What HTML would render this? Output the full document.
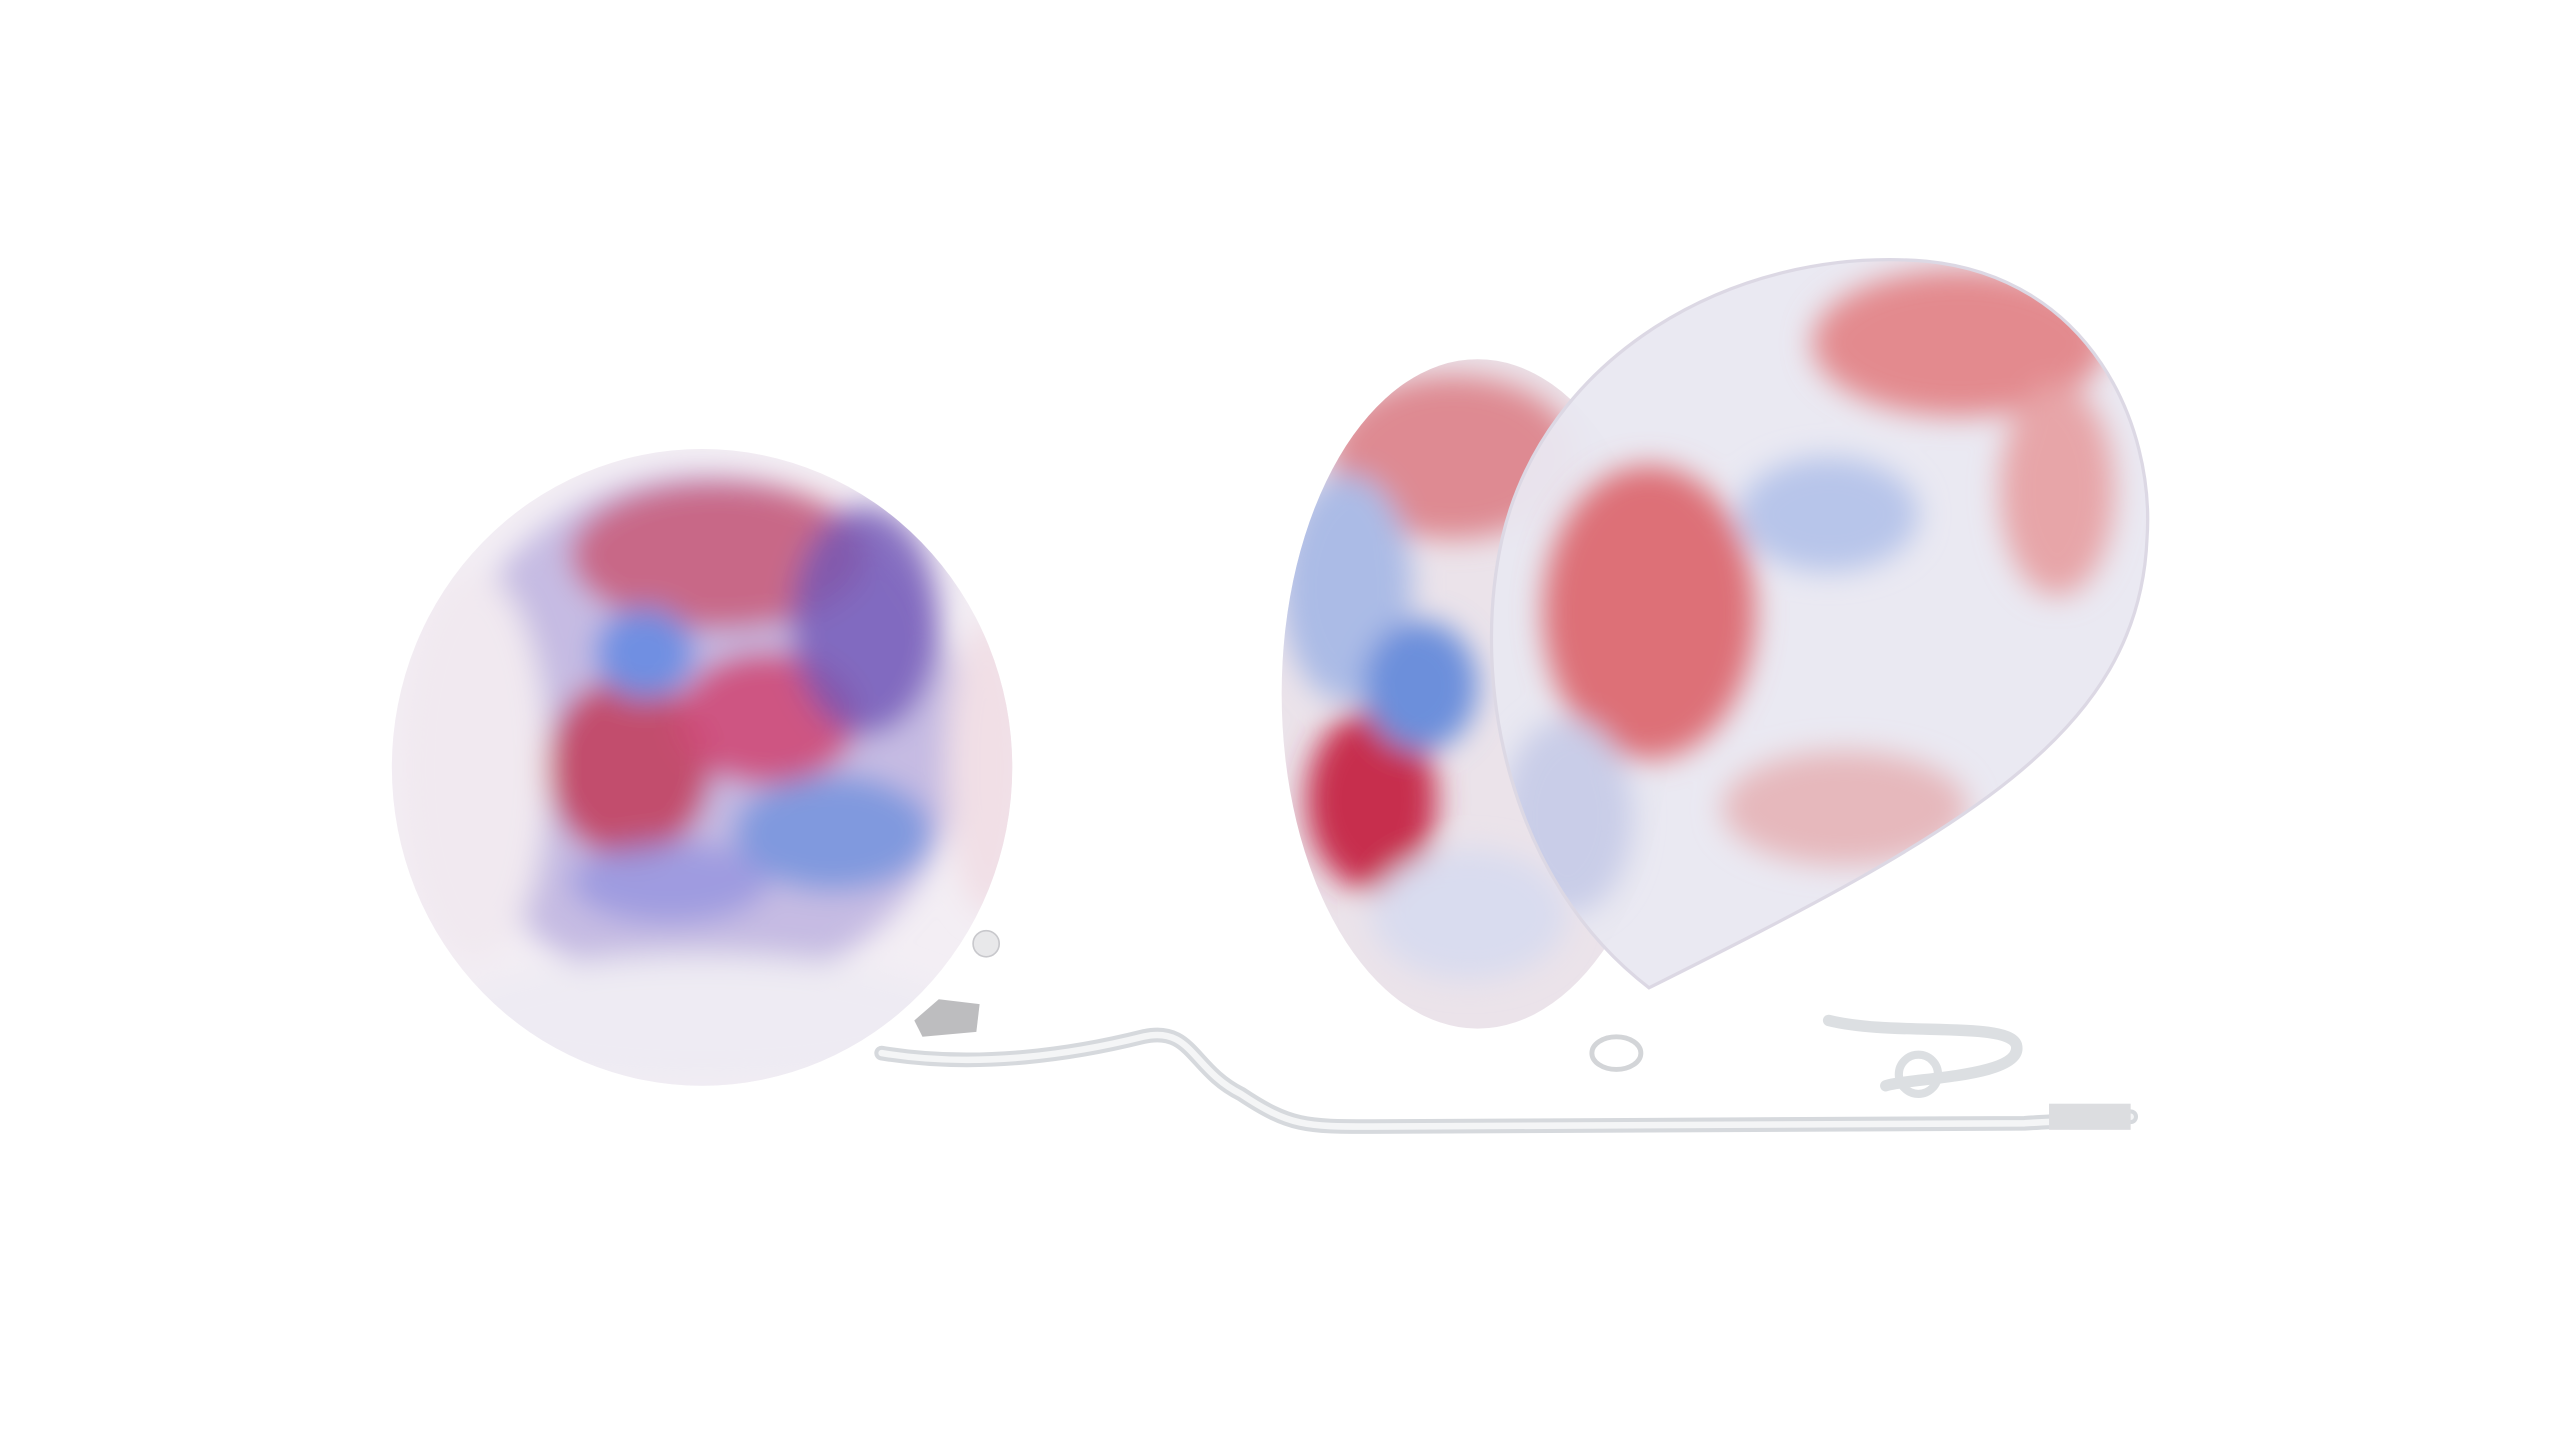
<!DOCTYPE html>
<html><head><meta charset="utf-8"><title>Render</title>
<style>html,body{margin:0;padding:0;background:#fff;}svg{display:block}</style></head>
<body>
<svg width="2560" height="1440" viewBox="0 0 2560 1440" xmlns="http://www.w3.org/2000/svg">
<defs>
<filter id="b1" x="-30%" y="-30%" width="160%" height="160%"><feGaussianBlur stdDeviation="9"/></filter>
<clipPath id="cl"><ellipse cx="430" cy="470" rx="190" ry="195"/></clipPath>
<clipPath id="cr"><path d="M1010,605 C925,540 900,420 920,330 C945,220 1060,150 1180,160 C1280,170 1320,260 1315,330 C1310,450 1200,510 1010,605 Z"/></clipPath>
<clipPath id="cb"><ellipse cx="905" cy="425" rx="120" ry="205"/></clipPath>
</defs>
<rect width="2560" height="1440" fill="#fff"/>
<g transform="scale(1.6327)">
 <g fill="none" stroke-linecap="round">
  <path d="M540,645 C600,655 660,645 700,635 C730,628 730,655 760,670 C790,690 800,690 840,690 L1240,688 C1270,686 1290,686 1305,684" stroke="#d6d9dd" stroke-width="9"/>
  <path d="M540,645 C600,655 660,645 700,635 C730,628 730,655 760,670 C790,690 800,690 840,690 L1240,688 C1270,686 1290,686 1305,684" stroke="#f4f5f6" stroke-width="4"/>
  <path d="M1120,625 C1160,635 1230,625 1235,640 C1240,660 1170,660 1155,665" stroke="#dcdfe2" stroke-width="7"/>
  <circle cx="1175" cy="658" r="12" stroke="#dcdfe2" stroke-width="5"/>
 </g>
 <path d="M560,625 L575,612 L600,615 L598,632 L565,635 Z" fill="#bdbdbf"/>
 <circle cx="604" cy="578" r="8" fill="#e8e8ea" stroke="#c8c8cc"/>
 <rect x="1255" y="676" width="50" height="16" fill="#dcdde0"/>

 <g>
  <ellipse cx="430" cy="470" rx="190" ry="195" fill="#f3eef4"/>
  <g clip-path="url(#cl)" filter="url(#b1)">
   <ellipse cx="430" cy="450" rx="160" ry="160" fill="#b2a5dc" opacity="0.7"/>
   <ellipse cx="440" cy="340" rx="90" ry="45" fill="#c95570" opacity="0.8"/>
   <ellipse cx="385" cy="470" rx="50" ry="55" fill="#c23a58" opacity="0.85"/>
   <ellipse cx="470" cy="440" rx="55" ry="40" fill="#cf4a78" opacity="0.9"/>
   <ellipse cx="395" cy="400" rx="30" ry="28" fill="#6f8fe2"/>
   <ellipse cx="530" cy="380" rx="45" ry="70" fill="#7056b6" opacity="0.8"/>
   <ellipse cx="510" cy="510" rx="60" ry="35" fill="#8099de"/>
   <ellipse cx="410" cy="540" rx="60" ry="25" fill="#8f8ede" opacity="0.7"/>
   <ellipse cx="290" cy="470" rx="45" ry="120" fill="#f1e9f0"/>
   <ellipse cx="430" cy="625" rx="160" ry="40" fill="#eeebf3"/>
   <ellipse cx="605" cy="470" rx="25" ry="90" fill="#f1dfe6"/>
  </g>
 </g>

 <g>
  <ellipse cx="905" cy="425" rx="120" ry="205" fill="#ebe3ea"/>
  <g clip-path="url(#cb)" filter="url(#b1)">
   <ellipse cx="890" cy="280" rx="75" ry="50" fill="#de8a92"/>
   <ellipse cx="825" cy="360" rx="40" ry="70" fill="#abbbe6"/>
   <ellipse cx="840" cy="490" rx="40" ry="55" fill="#c72f4d"/>
   <ellipse cx="870" cy="420" rx="35" ry="40" fill="#6c8fdb"/>
   <ellipse cx="900" cy="560" rx="60" ry="40" fill="#d9dcef"/>
  </g>
 </g>

 <g>
  <path d="M1010,605 C925,540 900,420 920,330 C945,220 1060,150 1180,160 C1280,170 1320,260 1315,330 C1310,450 1200,510 1010,605 Z" fill="#e9e8f1" opacity="0.95"/>
  <g clip-path="url(#cr)" filter="url(#b1)">
   <ellipse cx="1200" cy="210" rx="90" ry="45" fill="#e38a8e"/>
   <ellipse cx="1010" cy="375" rx="65" ry="90" fill="#dd6f77"/>
   <ellipse cx="1120" cy="315" rx="55" ry="35" fill="#b7c5ea"/>
   <ellipse cx="1260" cy="300" rx="35" ry="65" fill="#e7a5a8"/>
   <ellipse cx="1130" cy="495" rx="75" ry="35" fill="#e6b8bc"/>
   <ellipse cx="960" cy="500" rx="40" ry="60" fill="#c9cde8"/>
  </g>
  <path d="M1010,605 C925,540 900,420 920,330 C945,220 1060,150 1180,160 C1280,170 1320,260 1315,330 C1310,450 1200,510 1010,605 Z" fill="none" stroke="#dcd8e4" stroke-width="2"/>
 </g>
 <ellipse cx="990" cy="645" rx="15" ry="10" fill="none" stroke="#d3d5d8" stroke-width="3"/>
</g>
</svg>
</body></html>
